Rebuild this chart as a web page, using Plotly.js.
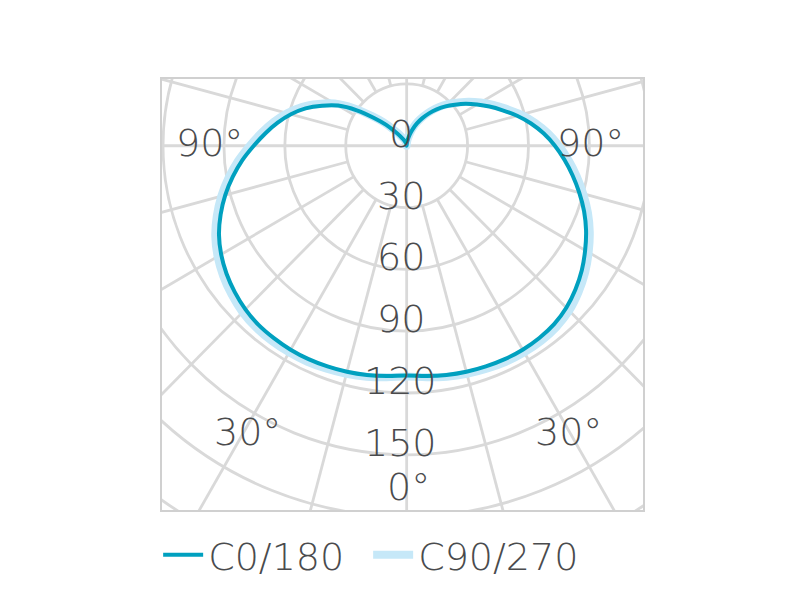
<!DOCTYPE html>
<html><head><meta charset="utf-8">
<script src="https://cdn.plot.ly/plotly-3.0.1.min.js"></script>
<style>html,body{margin:0;padding:0;background:#fff}</style>
</head><body><div id="chart" style="width:800px;height:600px"></div>
<script>
// Gamma angles (degrees from nadir) and luminous intensity values (cd/klm)
const gammaAngles = [0,5,10,15,20,25,30,35,40,45,50,55,60,65,70,75,80,85,90,95,100,105,110,115,120,125,130,135,140,145,150,155,160,165,170,175,180];
const c0   = [111.5,112.2,113,113.6,114,114.3,114.3,113.9,113,111.2,108.5,105.3,101.5,97.5,93,88,83,78,73,67.8,62.2,56.3,50.3,45,40,35.5,31,27,23,19.2,15.5,12,8.5,5.5,3,1.2,0];
const c180 = [111.5,112.2,113,113.6,114,114.3,114.3,114,113.5,112.3,110.5,108.3,105.5,102,97.5,92.5,87,81.3,75.3,69.8,64.5,59,53,46,39,30,21,14.5,9,6,4,3,2,1.5,1,0.5,0];
const c90  = [112,112.8,113.8,114.6,115.2,115.7,115.8,115.6,114.8,113.2,110.5,107.3,103.5,99.5,95,90,85,80,75,69.8,64.2,58.3,52.3,47,42,37.3,32.5,28.5,24.5,20.4,16.5,13,9.5,6.3,3.5,1.5,0];
const c270 = [112,112.8,113.8,114.6,115.2,115.7,115.8,115.7,115.3,114.3,112.5,110.3,107.5,104,99.5,94.5,89,83.3,77.3,71.8,66.5,61,55,48,41,31.8,22.5,16,10.5,7.2,5,4,3,2.3,1.5,0.8,0];

const seriesNames = ['C0/180','C90/270'];
const radialTicks = [0,30,60,90,120,150];
const gridCircles = [30,60,90,120,150,180,210,240];
const spokeStep = 15;
const angularLabels = ['90°','90°','30°','30°','0°'];

const darkColor = '#00a0bf';
const lightColor = '#c6e8f8';
const gridColor = '#d9d9d9';
const textColor = '#4a4b4d';
const FONT = 'DejaVu Sans, sans-serif';
const FS = 38;

function curve(rightVals, leftVals){
  const x=[], y=[];
  for (let i=gammaAngles.length-1;i>=0;i--){
    const t=gammaAngles[i]*Math.PI/180;
    x.push(-leftVals[i]*Math.sin(t)); y.push(-leftVals[i]*Math.cos(t));
  }
  for (let i=1;i<gammaAngles.length;i++){
    const t=gammaAngles[i]*Math.PI/180;
    x.push(rightVals[i]*Math.sin(t)); y.push(-rightVals[i]*Math.cos(t));
  }
  return {x,y};
}
const dark = curve(c0, c180);
const light = curve(c90, c270);

const traces = [
  {type:'scatter', mode:'lines', name:seriesNames[1], x:light.x, y:light.y,
   line:{color:lightColor, width:8, shape:'spline', smoothing:1}, legendrank:2, hoverinfo:'skip'},
  {type:'scatter', mode:'lines', name:seriesNames[0], x:dark.x, y:dark.y,
   line:{color:darkColor, width:4, shape:'spline', smoothing:1}, legendrank:1, hoverinfo:'skip'}
];

const shapes = [];
gridCircles.forEach(r=>{
  shapes.push({type:'circle', xref:'x', yref:'y', x0:-r, x1:r, y0:-r, y1:r,
    line:{color:gridColor, width:2.8}, layer:'below'});
});
for (let a=0; a<360; a+=spokeStep){
  const t=a*Math.PI/180;
  const r0 = (a % 90 === 0) ? 0 : gridCircles[0];
  const r1 = 400;
  shapes.push({type:'line', xref:'x', yref:'y',
    x0:r0*Math.sin(t), y0:-r0*Math.cos(t), x1:r1*Math.sin(t), y1:-r1*Math.cos(t),
    line:{color:gridColor, width:2.8}, layer:'below'});
}

const annotations = [];
radialTicks.forEach(r=>{
  annotations.push({xref:'x', yref:'y', x:-3, y:-r, yshift:12, text:String(r), showarrow:false,
    xanchor:'center', yanchor:'middle', font:{family:FONT, size:FS, color:textColor, weight:200}});
});
const angPos = [[-97.3,1.2],[90.7,1.2],[-78.5,-139],[79.8,-139],[1,-165.7]];
angularLabels.forEach((t,i)=>{
  annotations.push({xref:'x', yref:'y', x:angPos[i][0], y:angPos[i][1], text:t, showarrow:false,
    xanchor:'center', yanchor:'middle', font:{family:FONT, size:FS, color:textColor, weight:200}});
});

const layout = {
  width:800, height:600, autosize:false,
  margin:{l:162, r:157, t:79, b:90, pad:0},
  paper_bgcolor:'#fff', plot_bgcolor:'#fff',
  xaxis:{range:[-120.5,116.4], showgrid:false, zeroline:false, showticklabels:false, ticks:'',
    showline:true, mirror:true, linecolor:'#d0d0d0', linewidth:2, fixedrange:true},
  yaxis:{range:[-176.8,32.4], showgrid:false, zeroline:false, showticklabels:false, ticks:'',
    showline:true, mirror:true, linecolor:'#d0d0d0', linewidth:2, fixedrange:true},
  showlegend:true,
  legend:{orientation:'h', x:-0.008, xanchor:'left', y:-0.1044, yanchor:'middle',
    font:{family:FONT, size:FS, color:textColor, weight:200},
    itemwidth:40, entrywidth:155, entrywidthmode:'pixels', bgcolor:'rgba(0,0,0,0)'},
  shapes:shapes, annotations:annotations
};
Plotly.newPlot('chart', traces, layout, {displayModeBar:false, staticPlot:true});
</script></body></html>
